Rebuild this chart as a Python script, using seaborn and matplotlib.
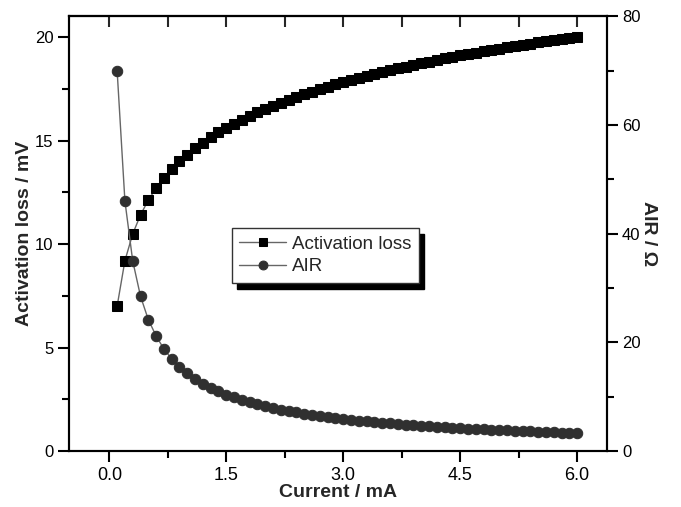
import numpy as np
import pandas as pd
import seaborn as sns
from matplotlib import pyplot as plt

# values
current = [0.1, 0.2, 0.3, 0.4, 0.5, 0.6, 0.7, 0.8, 0.9, 1.0,
           1.1, 1.2, 1.3, 1.4, 1.5, 1.6, 1.7, 1.8, 1.9, 2.0,
           2.1, 2.2, 2.3, 2.4, 2.5, 2.6, 2.7, 2.8, 2.9, 3.0,
           3.1, 3.2, 3.3, 3.4, 3.5, 3.6, 3.7, 3.8, 3.9, 4.0,
           4.1, 4.2, 4.3, 4.4, 4.5, 4.6, 4.7, 4.8, 4.9, 5.0,
           5.1, 5.2, 5.3, 5.4, 5.5, 5.6, 5.7, 5.8, 5.9, 6.0]
activation_loss = [7.00, 9.20, 10.49, 11.41, 12.12, 12.70, 13.19, 13.61, 13.99, 14.32,
                   14.63, 14.90, 15.16, 15.39, 15.61, 15.82, 16.01, 16.19, 16.36, 16.53,
                   16.68, 16.83, 16.97, 17.11, 17.24, 17.36, 17.48, 17.60, 17.71, 17.82,
                   17.92, 18.02, 18.12, 18.21, 18.31, 18.40, 18.48, 18.57, 18.65, 18.73,
                   18.81, 18.89, 18.96, 19.03, 19.11, 19.18, 19.24, 19.31, 19.38, 19.44,
                   19.50, 19.56, 19.62, 19.68, 19.74, 19.80, 19.86, 19.91, 19.97, 20.02]
air = [70.0, 46.0, 35.0, 28.5, 24.2, 21.2, 18.8, 17.0, 15.5, 14.3,
       13.3, 12.4, 11.7, 11.0, 10.4, 9.9, 9.4, 9.0, 8.6, 8.3,
       7.9, 7.65, 7.38, 7.13, 6.90, 6.68, 6.47, 6.29, 6.11, 5.94,
       5.78, 5.63, 5.49, 5.36, 5.23, 5.11, 4.99, 4.89, 4.78, 4.68,
       4.59, 4.50, 4.41, 4.33, 4.25, 4.17, 4.09, 4.02, 3.95, 3.89,
       3.82, 3.76, 3.70, 3.64, 3.59, 3.54, 3.48, 3.43, 3.38, 3.34]

x_ticks = [0.0, 1.5, 3.0, 4.5, 6.0]
left_ticks = [0, 5, 10, 15, 20]
right_ticks = [0, 20, 40, 60, 80]

df = pd.DataFrame({"current": current, "activation_loss": activation_loss, "air": air})

sns.set_style("ticks")
plt.rcParams["font.family"] = ["Liberation Sans", "DejaVu Sans"]
narrow = ["Liberation Sans Narrow", "Liberation Sans", "DejaVu Sans"]

fig = plt.figure(figsize=(6.81, 5.07), dpi=100)
ax = fig.add_axes([0.101, 0.110, 0.790, 0.858])
ax2 = ax.twinx()

sns.lineplot(data=df, x="current", y="activation_loss", ax=ax, color="#666666", lw=1,
             marker="s", markersize=6.5, markerfacecolor="black", markeredgecolor="black",
             label="Activation loss", legend=False)
sns.lineplot(data=df, x="current", y="air", ax=ax2, color="#666666", lw=1,
             marker="o", markersize=7.5, markerfacecolor="#303030", markeredgecolor="#303030",
             label="AIR", legend=False)

ax.set_xlim(-0.52, 6.38)
ax.set_ylim(0, 21)
ax2.set_ylim(0, 80)

ax.set_xticks(x_ticks)
ax.set_xticks([0.75, 2.25, 3.75, 5.25], minor=True)
ax.set_xticklabels([f"{t:.1f}" for t in x_ticks], fontfamily=narrow, fontsize=13)
ax.set_yticks(left_ticks)
ax.set_yticks([2.5, 7.5, 12.5, 17.5], minor=True)
ax.set_yticklabels([str(t) for t in left_ticks], fontsize=12)
ax2.set_yticks(right_ticks)
ax2.set_yticks([10, 30, 50, 70], minor=True)
ax2.set_yticklabels([str(t) for t in right_ticks], fontsize=12)

for a in (ax, ax2):
    for s in a.spines.values():
        s.set_linewidth(1.5)
        s.set_color("black")
    a.tick_params(which="major", length=8, width=1.5, colors="black", pad=3)
    a.tick_params(which="minor", length=5, width=1.5, colors="black")

top = ax.secondary_xaxis("top")
top.set_xticks(x_ticks)
top.set_xticks([0.75, 2.25, 3.75, 5.25], minor=True)
top.set_xticklabels([])
top.tick_params(which="both", direction="in", length=8, width=1.5)
top.spines["top"].set_linewidth(1.5)

ax.set_xlabel("Current / mA", fontsize=14, fontweight="bold", fontfamily=narrow, labelpad=0)
ax.set_ylabel("Activation loss / mV", fontsize=14, fontweight="bold", labelpad=1)
ax2.set_ylabel("AIR / \u03a9", fontsize=14, fontweight="bold", rotation=270, labelpad=12)

handles = ax.get_lines()[:1] + ax2.get_lines()[:1]
leg = ax2.legend(handles, ["Activation loss", "AIR"], loc="upper left",
                 bbox_to_anchor=(0.303, 0.513), fontsize=13.5, frameon=True, fancybox=False,
                 shadow={"color": "black", "alpha": 1, "ox": 4, "oy": -4},
                 handlelength=2.5, borderpad=0.4, labelspacing=0.3, handletextpad=0.3,
                 borderaxespad=0, markerscale=0.85)
leg.get_frame().set_edgecolor("#333333")
leg.get_frame().set_linewidth(1)

fig.savefig("out.png", dpi=100)
